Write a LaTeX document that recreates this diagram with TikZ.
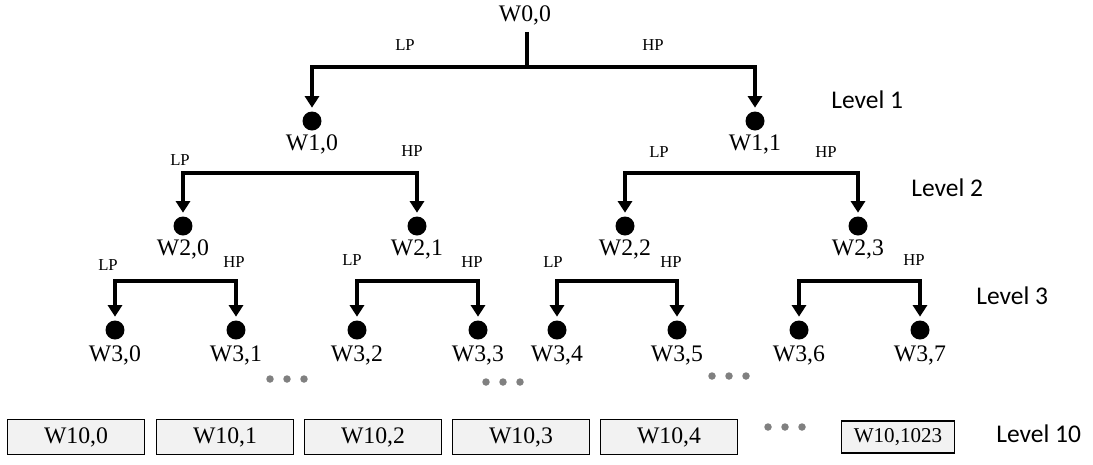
\documentclass[tikz,border=0pt]{standalone}
\usepackage{fontspec}
\setmainfont{Liberation Serif}
\newfontfamily\levelfont{Carlito}
\usetikzlibrary{arrows.meta}

\tikzset{
  coef/.style={circle,fill=black,inner sep=0pt,minimum size=0.38cm},
  wname/.style={font=\fontsize{13.5}{13.5}\selectfont,inner sep=1pt},
  pass/.style={font=\fontsize{9.5}{10}\selectfont,inner sep=0pt},
  stem/.style={line width=0.08cm},
  branch/.style={line width=0.08cm,
    {Triangle[width=0.28cm,length=0.23cm]}-{Triangle[width=0.28cm,length=0.23cm]},
    shorten <=0.07cm,shorten >=0.07cm},
  band/.style={draw,line width=1pt,fill=black!5,minimum width=2.74cm,
    minimum height=0.7cm,font=\fontsize{13.5}{13.5}\selectfont},
  levelname/.style={font=\levelfont\fontsize{14.5}{14.5}\selectfont,anchor=west,inner sep=0pt}
}
\newcommand{\moredots}[2]
{   \foreach \d in {-17,0,17} {\fill[gray] (#1+\d,#2) circle (0.075cm);}
}

\begin{document}
\begin{tikzpicture}[x=0.02cm,y=-0.02cm]
          \useasboundingbox (0,0) rectangle (1093,464);
          % level 0 and 1
          \node[wname] (w00) at (525,15) {W0,0};
          \coordinate (j00) at (527,67);
          \node[coef,label={[wname,label distance=1pt]below:{W1,0}}] (w10) at (312,121) {};
          \node[coef,label={[wname,label distance=1pt]below:{W1,1}}] (w11) at (755,121) {};
          \draw[stem] (w00.south -| j00) ++(0,-0.1cm) -- (j00);
          \draw[branch] (w10) |- (j00) -| (w11);
          \node[pass] (lp00) at (405,45) {LP};
          \node[pass] (hp00) at (653,45) {HP};
          % level 2
          \coordinate (j10) at (300,173);
          \coordinate (j11) at (740,173);
          \node[coef,label={[wname,label distance=1pt]below:{W2,0}}] (w20) at (183,226) {};
          \node[coef,label={[wname,label distance=1pt]below:{W2,1}}] (w21) at (417,226) {};
          \node[coef,label={[wname,label distance=1pt]below:{W2,2}}] (w22) at (625,226) {};
          \node[coef,label={[wname,label distance=1pt]below:{W2,3}}] (w23) at (858,226) {};
          \draw[branch] (w20) |- (j10) -| (w21);
          \draw[branch] (w22) |- (j11) -| (w23);
          \node[pass] (lp10) at (180,160) {LP};
          \node[pass] (hp10) at (412,151) {HP};
          \node[pass] (lp11) at (659,152) {LP};
          \node[pass] (hp11) at (826,152) {HP};
          % level 3
          \coordinate (j20) at (175,281);
          \coordinate (j21) at (417,281);
          \coordinate (j22) at (617,281);
          \coordinate (j23) at (860,281);
          \node[coef,label={[wname,label distance=2pt]below:{W3,0}}] (w30) at (115,330) {};
          \node[coef,label={[wname,label distance=2pt]below:{W3,1}}] (w31) at (236,330) {};
          \node[coef,label={[wname,label distance=2pt]below:{W3,2}}] (w32) at (357,330) {};
          \node[coef,label={[wname,label distance=2pt]below:{W3,3}}] (w33) at (478,330) {};
          \node[coef,label={[wname,label distance=2pt]below:{W3,4}}] (w34) at (557,330) {};
          \node[coef,label={[wname,label distance=2pt]below:{W3,5}}] (w35) at (677,330) {};
          \node[coef,label={[wname,label distance=2pt]below:{W3,6}}] (w36) at (799,330) {};
          \node[coef,label={[wname,label distance=2pt]below:{W3,7}}] (w37) at (920,330) {};
          \draw[branch] (w30) |- (j20) -| (w31);
          \draw[branch] (w32) |- (j21) -| (w33);
          \draw[branch] (w34) |- (j22) -| (w35);
          \draw[branch] (w36) |- (j23) -| (w37);
          \node[pass] (lp20) at (108,265) {LP};
          \node[pass] (hp20) at (234,262) {HP};
          \node[pass] (lp21) at (352,260) {LP};
          \node[pass] (hp21) at (472,262) {HP};
          \node[pass] (lp22) at (553,262) {LP};
          \node[pass] (hp22) at (671,262) {HP};
          \node[pass] (hp23) at (914,260) {HP};
          \moredots{287}{379}
          \moredots{503}{382}
          \moredots{729}{376}
          % level 10
          \foreach \i/\x in {0/76,1/225,2/373,3/521,4/669}
            {\node[band] (b\i) at (\x,437) {W10,\i};}
          \node[band,minimum width=2.26cm,minimum height=0.64cm,font=\fontsize{12}{12}\selectfont] (b1023) at (898,437) {W10,1023};
          \moredots{785}{427}
          % level names
          \node[levelname] (lev1) at (831,100) {Level 1};
          \node[levelname] (lev2) at (911,188) {Level 2};
          \node[levelname] (lev3) at (976,296) {Level 3};
          \node[levelname] (lev10) at (996,434) {Level 10};
        \end{tikzpicture}
\end{document}
